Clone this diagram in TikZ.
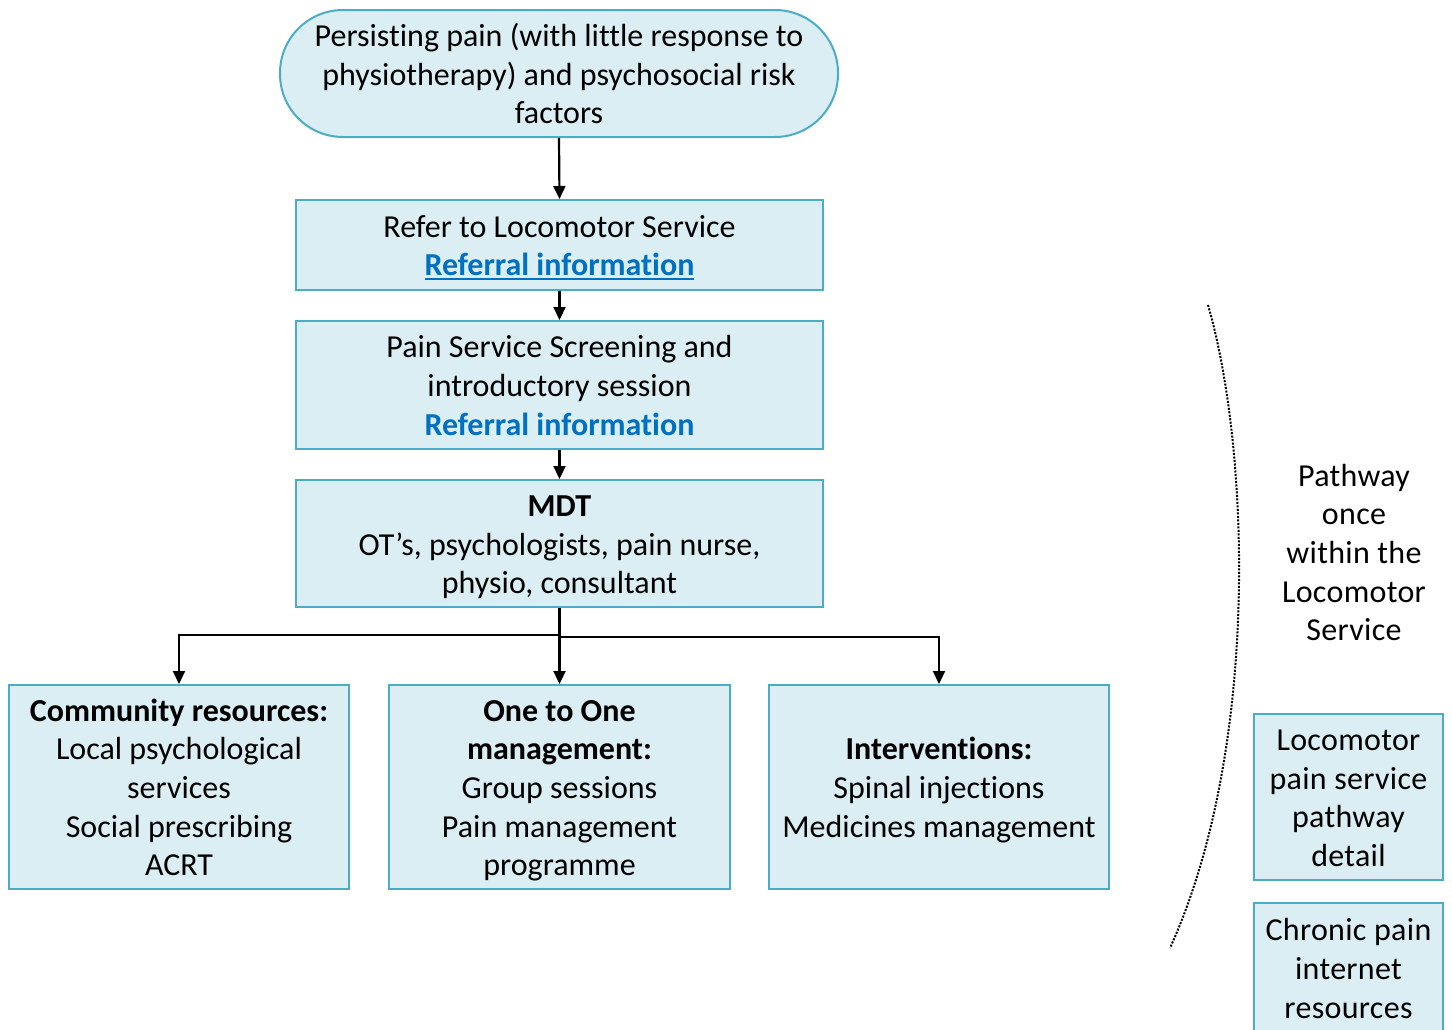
\documentclass[tikz,border=0pt]{standalone}
\usepackage{fontspec}
\setmainfont{Carlito}[Ligatures=NoCommon]
\usetikzlibrary{arrows.meta}
\definecolor{boxfill}{HTML}{DAEEF3}
\definecolor{boxline}{HTML}{4BACC6}
\definecolor{linkblue}{HTML}{0070C0}
\newcommand{\myul}[1]{\begingroup\setbox0\hbox{#1}\rlap{\usebox0}\rule[-4pt]{\wd0}{2pt}\endgroup}
\newcommand{\fst}{\rule{0pt}{30pt}}
\newcommand{\lst}{\rule[-7pt]{0pt}{7pt}}
\begin{document}
\begin{tikzpicture}[x=1pt,y=-1pt,
  txt/.style={inner sep=0pt, align=center, font=\fontsize{32}{38.6}\selectfont},
  box/.style={txt, draw=boxline, fill=boxfill, line width=2pt},
  arr/.style={-{Triangle[width=12pt,length=13pt]}, line width=2.2pt},
  sp/.style={font=\fontsize{32}{38.6}\selectfont\addfontfeature{LetterSpace=1}}
]
\useasboundingbox (0,0) rectangle (1452,1029);
\node[box, rounded corners=63pt, minimum width=558pt, minimum height=127pt] (top) at (559,73.5)
  {\fst Persisting pain (with little response to\\physiotherapy) and psychosocial risk\\factors\lst};
\node[box, minimum width=527pt, minimum height=90pt] (b1) at (559.5,245)
  {\fst Refer to Locomotor Service\\{\color{linkblue}\bfseries\myul{Referral information}}\lst};
\node[box, minimum width=527pt, minimum height=128pt] (b2) at (559.5,385)
  {\fst Pain Service Screening and\\introductory session\\{\color{linkblue}\bfseries Referral information}\lst};
\node[box, minimum width=527pt, minimum height=127pt] (b3) at (559.5,543.5)
  {\fst\textbf{MDT}\\OT’s, psychologists, pain nurse,\\physio, consultant\lst};
\node[box, minimum width=340pt, minimum height=204pt] (b4) at (179,787)
  {\fst\textbf{Community resources:}\\Local psychological\\services\\Social prescribing\\ACRT\lst};
\node[box, minimum width=341pt, minimum height=204pt] (b5) at (559.5,787)
  {\fst\textbf{One to One}\\\textbf{management:}\\Group sessions\\Pain management\\programme\lst};
\node[box, minimum width=340pt, minimum height=204pt] (b6) at (939,787)
  {\fst\textbf{Interventions:}\\Spinal injections\\Medicines management\lst};
\node[txt, sp] (pw) at (1354,552)
  {\fst Pathway\\once\\within the\\Locomotor\\Service\lst};
\node[box, sp, minimum width=189pt, minimum height=166pt] (b7) at (1348.5,797)
  {\fst Locomotor\\pain service\\pathway\\detail\lst};
\node[box, sp, minimum width=189pt, minimum height=130pt] (b8) at (1348.5,968)
  {\fst Chronic pain\\internet\\resources\lst};
\draw[arr] (top.south) -- (b1.north);
\draw[arr] (b1.south) -- (b2.north);
\draw[arr] (b2.south) -- (b3.north);
\draw[arr] (b3.south) -- (b5.north);
\draw[arr] (b3.south) -- ++(0,27) -| (b4.north);
\draw[arr] (b3.south) -- ++(0,29) -| (b6.north);
\coordinate (c1) at (1208,305);
\coordinate (c2) at (1170,948);
\draw[line width=2pt, dash pattern=on 2pt off 1.5pt] (c1) .. controls (1250,450) and (1260,750) .. (c2);
\end{tikzpicture}
\end{document}
